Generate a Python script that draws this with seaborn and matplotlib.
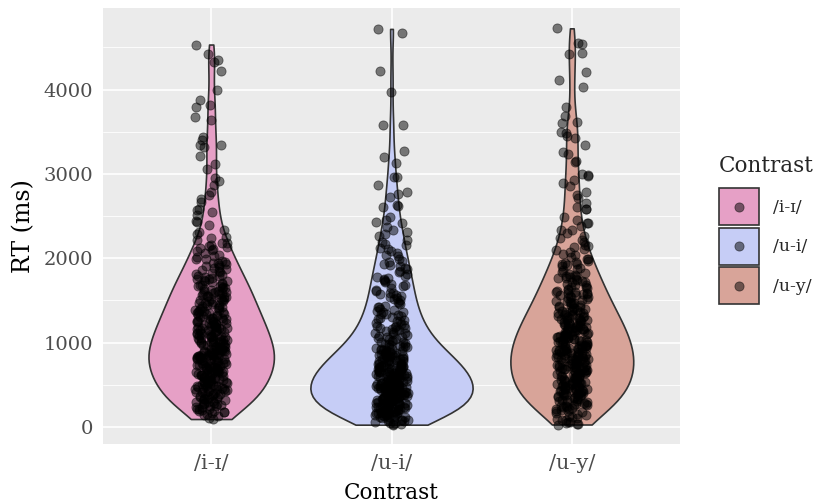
import numpy as np
import pandas as pd
import matplotlib
matplotlib.use('Agg')
import matplotlib.pyplot as plt
import seaborn as sns
from matplotlib.patches import Patch
from matplotlib.lines import Line2D
from matplotlib.legend_handler import HandlerLine2D
from matplotlib.ticker import MultipleLocator

# Reaction times (ms), per contrast
rt_i_ih = [
    95, 128, 146, 161, 177, 184, 193, 199,
    212, 219, 236, 244, 251, 268, 274, 289, 297, 308, 313, 329, 334, 347, 359, 366, 381, 394,
    403, 411, 422, 427, 438, 446, 449, 461, 468, 477, 485, 493, 497, 512, 519, 523, 538, 545,
    557, 563, 576, 581, 597,
    604, 611, 617, 626, 633, 641, 644, 656, 662, 671, 679, 686, 694, 701, 709, 717, 726, 733,
    741, 749, 757, 766, 778, 785, 796,
    802, 809, 817, 824, 831, 839, 846, 849, 857, 864, 871, 878, 886, 893, 899, 908, 914, 921,
    929, 937, 944, 953, 961, 972, 979, 991,
    1004, 1013, 1019, 1028, 1037, 1041, 1052, 1063, 1069, 1078, 1084, 1096, 1101, 1112, 1117,
    1129, 1138, 1146, 1151, 1164, 1172, 1177, 1189, 1198,
    1207, 1216, 1228, 1233, 1247, 1256, 1262, 1278, 1287, 1293, 1306, 1311, 1327, 1336, 1342,
    1353, 1368, 1372, 1384, 1397,
    1408, 1419, 1426, 1443, 1452, 1466, 1471, 1488, 1494, 1509, 1516, 1533, 1544, 1549, 1567,
    1572, 1588, 1596,
    1611, 1624, 1636, 1648, 1659, 1672, 1681, 1697, 1712, 1726, 1741, 1753, 1768, 1789,
    1806, 1822, 1841, 1857, 1871, 1893, 1909, 1928, 1946, 1968, 1987,
    2012, 2044, 2068, 2095, 2118, 2130, 2154, 2185,
    2213, 2237, 2284, 2331, 2391,
    2426, 2509, 2544, 2568, 2663, 2746, 2790, 2864, 2950,
    3053, 3112, 3207, 3314, 3337, 3342, 3396, 3432, 3633, 3669, 3787, 3811, 3870, 4000,
    4225, 4331, 4355, 4426, 4533,
    108, 152, 188,
    218, 232, 257, 281, 302, 322, 343, 356, 372, 389,
    406, 419, 433, 452, 464, 481, 488, 505, 527, 534, 551, 568, 586, 592,
    607, 622, 638, 649, 666, 674, 691, 698, 712, 729, 738, 753, 761, 773, 789, 798,
    805, 813, 828, 835, 852, 861, 868, 882, 890, 904, 917, 926, 941, 957, 968, 983, 996,
    1008, 1024, 1033, 1048, 1057, 1073, 1089, 1106, 1121, 1134, 1149, 1158, 1169, 1184, 1193,
    1211, 1226, 1241, 1252, 1271, 1283, 1298, 1317, 1331, 1349, 1362, 1379, 1391,
    1414, 1434, 1457, 1479, 1503, 1522, 1538, 1558, 1579, 1592, 1599,
    1618, 1643, 1667, 1689, 1718, 1734, 1759, 1777, 1795,
    1815, 1848, 1879, 1915, 1939, 1961, 1992,
    2027, 2081, 2109, 2142, 2176, 2253, 2306, 2447, 2588, 2702, 2918,
]

rt_u_i = [
    28, 35, 47, 58, 66, 79, 88, 97, 106, 114, 121, 129, 137, 142, 151, 158, 163, 171, 178, 184,
    191, 197,
    203, 208, 214, 219, 226, 231, 237, 243, 248, 254, 261, 266, 272, 277, 283, 289, 294, 301,
    306, 313, 318, 324, 331, 337, 342, 349, 356, 362, 369, 377, 384, 393,
    401, 407, 412, 416, 423, 429, 432, 438, 446, 449, 457, 460, 467, 473, 476, 484, 489, 493,
    501, 504, 512, 516, 523, 529, 533, 542, 547, 551, 561, 564, 573, 578, 588, 596,
    603, 608, 614, 621, 627, 632, 639, 646, 651, 658, 664, 669, 677, 683, 688, 696, 701, 709,
    714, 721, 727, 734, 741, 747, 753, 761, 768, 777, 786, 795,
    804, 812, 819, 828, 836, 843, 851, 859, 866, 874, 883, 891, 899, 908, 917, 926, 934, 944,
    953, 964, 976, 989,
    1006, 1019, 1031, 1044, 1058, 1071, 1083, 1097, 1112, 1124, 1139, 1153, 1168, 1182, 1196,
    1214, 1233, 1251, 1268, 1287, 1306, 1324, 1343, 1361, 1377, 1395,
    1418, 1437, 1461, 1484, 1506, 1527, 1549, 1571, 1593,
    1617, 1642, 1668, 1693, 1716, 1741, 1766, 1792,
    1819, 1848, 1874, 1903, 1931, 1958, 1986,
    2024, 2058, 2091, 2126, 2157, 2188,
    2213, 2260, 2310, 2367, 2414, 2426, 2485,
    2603, 2615, 2627, 2722, 2757, 2781, 2864, 2959, 2966, 3124, 3195, 3266, 3574, 3580,
    3965, 4225, 4675, 4718,
    41, 53, 72, 84, 101, 117, 133, 146, 155, 168, 175, 188, 194,
    206, 217, 223, 234, 246, 258, 263, 279, 286, 297, 309, 316, 327, 339, 346, 358, 367, 381, 389,
    403, 414, 419, 426, 436, 441, 452, 463, 469, 481, 486, 497, 508, 513, 526, 537, 544, 556,
    568, 582, 591,
    606, 617, 624, 636, 648, 654, 667, 673, 686, 692, 706, 718, 731, 738, 752, 766, 781, 793,
    808, 823, 838, 847, 862, 879, 894, 912, 929, 948, 961, 982, 997,
    1012, 1038, 1064, 1091, 1117, 1146, 1159, 1176, 1193,
    1223, 1259, 1281, 1314, 1339, 1367, 1389,
    1427, 1473, 1517, 1538, 1563, 1588,
    1629, 1681, 1729, 1758, 1781,
    1836, 1887, 1918, 1972,
    2041, 2113, 2172, 2288, 2341, 2452,
]

rt_u_y = [
    30, 41, 52, 64, 78, 93, 112, 131, 148, 166, 179, 194,
    207, 216, 229, 238, 246, 259, 267, 278, 286, 297, 309, 317, 326, 338, 346, 357, 366, 374,
    386, 395,
    404, 412, 419, 428, 436, 443, 451, 459, 467, 474, 483, 491, 498, 507, 514, 522, 531, 538,
    546, 554, 563, 571, 582, 592,
    603, 609, 618, 626, 633, 641, 647, 656, 664, 671, 679, 686, 694, 702, 709, 717, 724, 733,
    741, 748, 756, 764, 773, 781, 793,
    801, 808, 816, 823, 831, 839, 846, 854, 862, 869, 877, 884, 892, 901, 908, 916, 923, 931,
    939, 947, 955, 963, 972, 981, 992,
    1003, 1011, 1019, 1028, 1036, 1044, 1053, 1061, 1069, 1078, 1086, 1094, 1103, 1112, 1121,
    1129, 1138, 1146, 1155, 1164, 1173, 1183, 1194,
    1204, 1214, 1224, 1233, 1243, 1254, 1263, 1273, 1284, 1294, 1303, 1314, 1324, 1335, 1344,
    1355, 1366, 1376, 1387, 1397,
    1411, 1423, 1436, 1448, 1461, 1473, 1486, 1498, 1511, 1524, 1536, 1548, 1561, 1573, 1586,
    1598,
    1614, 1631, 1648, 1664, 1681, 1697, 1713, 1729, 1746, 1762, 1779, 1795,
    1818, 1839, 1861, 1884, 1906, 1927, 1949, 1971, 1992,
    2021, 2049, 2078, 2106, 2133, 2161, 2189,
    2215, 2260, 2331, 2338, 2380, 2414, 2450, 2488,
    2580, 2584, 2651, 2746, 2781, 2888, 2923, 2970, 2982, 2995,
    3136, 3150, 3231, 3254, 3337, 3420, 3444, 3479, 3498,
    3598, 3610, 3692, 3787,
    4035, 4118, 4213, 4426, 4430, 4544, 4556, 4725,
    36, 58, 87, 121, 157, 186,
    211, 233, 252, 272, 291, 313, 331, 351, 362, 379, 383, 398,
    408, 423, 439, 447, 463, 478, 487, 502, 519, 527, 543, 558, 567, 579, 596,
    606, 621, 637, 644, 661, 676, 683, 699, 713, 721, 738, 744, 761, 776, 787, 797,
    804, 819, 827, 844, 851, 866, 873, 889, 897, 913, 919, 936, 944, 959, 977, 988,
    1008, 1016, 1032, 1041, 1057, 1066, 1082, 1091, 1108, 1117, 1133, 1149, 1161, 1178, 1189,
    1209, 1228, 1238, 1258, 1268, 1289, 1299, 1318, 1329, 1349, 1361, 1381, 1392,
    1417, 1442, 1467, 1492, 1517, 1542, 1566, 1579, 1591, 1599,
    1622, 1656, 1689, 1721, 1754, 1771, 1787, 1799,
    1828, 1872, 1917, 1938, 1961, 1996,
    2037, 2094, 2147, 2237, 2297, 2421, 2612, 2713, 2851,
]

contrasts = ['/i-ɪ/', '/u-i/', '/u-y/']
fill_colors = ['#E6A0C6', '#C6CDF6', '#D8A499']

df = pd.DataFrame({
    'Contrast': [contrasts[0]] * len(rt_i_ih) + [contrasts[1]] * len(rt_u_i) + [contrasts[2]] * len(rt_u_y),
    'RT': rt_i_ih + rt_u_i + rt_u_y,
})


def bw_nrd0(kde):
    # R's default density bandwidth, returned as a factor of the sample sd
    x = kde.dataset[0]
    sd = np.std(x, ddof=1)
    q75, q25 = np.percentile(x, [75, 25])
    h = 0.9 * min(sd, (q75 - q25) / 1.34) * len(x) ** (-0.2)
    return h / sd


class CenteredDot(HandlerLine2D):
    # put the legend dot in the middle of the key box
    def create_artists(self, legend, orig_handle, xdescent, ydescent, width, height,
                       fontsize, trans):
        return super().create_artists(legend, orig_handle, xdescent, 2 * ydescent,
                                      width, height, fontsize, trans)


sns.set_theme(style='darkgrid')
plt.rcParams['font.family'] = ['DejaVu Serif']
plt.rcParams.update({
    'axes.facecolor': '#EBEBEB',
    'grid.color': 'white',
})

fig = plt.figure(figsize=(8.24, 5.04), dpi=100)
ax = fig.add_axes([103 / 824, (504 - 444) / 504, (680 - 103) / 824, (444 - 8) / 504])

sns.violinplot(data=df, x='Contrast', y='RT', hue='Contrast', palette=fill_colors,
               order=contrasts, hue_order=contrasts, cut=0, density_norm='area',
               common_norm=True, width=0.9, inner=None, linecolor='#333333',
               linewidth=1.2, saturation=1, bw_method=bw_nrd0, legend=False, ax=ax)

np.random.seed(3)
sns.stripplot(data=df, x='Contrast', y='RT', order=contrasts, color='black',
              alpha=0.5, size=6.6, jitter=0.09, edgecolor='black', linewidth=0.6,
              ax=ax)

ax.set_xlim(-0.6, 2.6)
ax.set_ylim(-201, 4966)
ax.yaxis.set_major_locator(MultipleLocator(1000))
ax.yaxis.set_minor_locator(MultipleLocator(500))
ax.grid(which='major', color='white', linewidth=1.2)
ax.grid(which='minor', axis='y', color='white', linewidth=0.6)
ax.set_axisbelow(True)
for s in ax.spines.values():
    s.set_visible(False)

ax.tick_params(axis='both', which='major', length=4, width=1.1, color='#333333',
               labelcolor='#4D4D4D', labelsize=14, pad=3)
ax.tick_params(axis='x', which='major', labelsize=15)
ax.tick_params(axis='both', which='minor', length=0)
ax.set_xlabel('Contrast', fontsize=15.5, color='black', labelpad=7)
ax.set_ylabel('RT (ms)', fontsize=17, color='black', labelpad=6)

handles = [(Patch(facecolor=c, edgecolor='#333333', linewidth=1.2),
            Line2D([], [], marker='o', linestyle='', color='black', alpha=0.5,
                   markersize=6.6, markeredgewidth=0.6))
           for c in fill_colors]
leg = fig.legend(handles, contrasts, loc='upper left', bbox_to_anchor=(712 / 824, 1 - 148 / 504),
                 frameon=False, title='Contrast', title_fontsize=15.5, fontsize=12.5,
                 handlelength=2.3, handleheight=2.9, labelspacing=0.15, handletextpad=0.8,
                 borderaxespad=0, handler_map={Line2D: CenteredDot()})
leg._legend_box.align = 'left'
leg._legend_box.sep = 8

fig.savefig('out.png', dpi=100)
